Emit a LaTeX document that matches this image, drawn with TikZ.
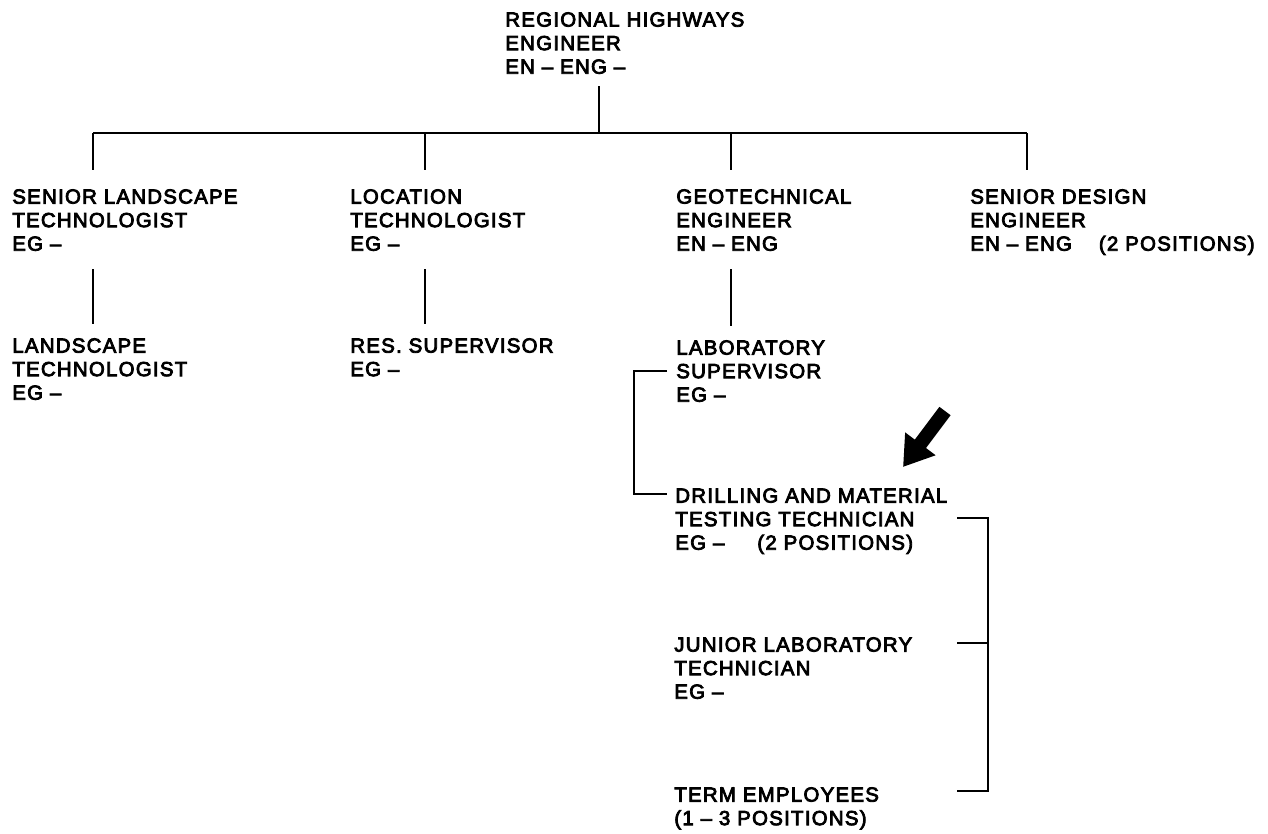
\documentclass[tikz,border=0pt]{standalone}
\usepackage{fontspec}
\newfontfamily\chartfont{Liberation Sans}[LetterSpace=6.3,FakeBold=4]
\usetikzlibrary{calc,arrows.meta}

\begin{document}
\begin{tikzpicture}
[
    x=0.02cm, y=-0.02cm,
    post/.style={anchor=north west, inner sep=0pt, align=left,
        font=\chartfont\fontsize{11.6pt}{13.4pt}\selectfont},
    link/.style={line width=0.045cm}
]
    \useasboundingbox (0,0) rectangle (1268,833);

    \node [post] (rhe) at (505,12) {REGIONAL HIGHWAYS\\ENGINEER\\EN – ENG –};

    \node [post] (slt) at (12,189) {SENIOR LANDSCAPE\\TECHNOLOGIST\\EG –};
    \node [post] (lct) at (350,189) {LOCATION\\TECHNOLOGIST\\EG –};
    \node [post] (gte) at (676,189) {GEOTECHNICAL\\ENGINEER\\EN – ENG};
    \node [post] (sde) at (970,189) {SENIOR DESIGN\\ENGINEER\\EN – ENG\hspace{0.54cm}(2 POSITIONS)};

    \node [post] (lat) at (12,338) {LANDSCAPE\\TECHNOLOGIST\\EG –};
    \node [post] (rsv) at (350,338) {RES. SUPERVISOR\\EG –};
    \node [post] (lsv) at (676,340) {LABORATORY\\SUPERVISOR\\EG –};

    \node [post] (dmt) at (675,488) {DRILLING AND MATERIAL\\TESTING TECHNICIAN\\EG –\hspace{0.66cm}(2 POSITIONS)};
    \node [post] (jlt) at (674,637) {JUNIOR LABORATORY\\TECHNICIAN\\EG –};
    \node [post] (tem) at (674,787) {TERM EMPLOYEES\\(1 – 3 POSITIONS)};

    % top bus
    \coordinate (bus) at (599,133);
    \coordinate (busL) at (93,133);
    \coordinate (colB) at (425,133);
    \coordinate (colC) at (731,133);
    \coordinate (busR) at (1027,133);
    \draw [link, shorten <=0.24cm] (bus |- rhe.south) -- (bus);
    \draw [link] (busL) -- (busR);
    \foreach \c/\n in {busL/slt, colB/lct, colC/gte, busR/sde}
        \draw [link, shorten >=0.38cm] (\c) -- (\c |- \n.north);
    \foreach \c/\n/\m in {busL/slt/lat, colB/lct/rsv, colC/gte/lsv}
        \draw [link, shorten <=0.36cm, shorten >=0.28cm] (\c |- \n.south) -- (\c |- \m.north);

    % brackets
    \draw [link] ([xshift=-0.18cm]lsv.west) -| ($(dmt.north west)+(-41,6)$) -- ++(33,0);
    \coordinate (tkD) at (957,518);
    \coordinate (tkJ) at (957,643);
    \coordinate (tkT) at (957,791);
    \draw [link] (tkD) -| ([xshift=0.62cm]tkT) -- (tkT);
    \draw [link] (tkJ) -- ++(31,0);

    % pointer
    \coordinate (arT) at (945,411);
    \coordinate (arP) at (903,467);
    \draw [line width=0.28cm, -{Triangle[width=0.72cm,length=0.58cm]}] (arT) -- (arP);
\end{tikzpicture}
\end{document}
